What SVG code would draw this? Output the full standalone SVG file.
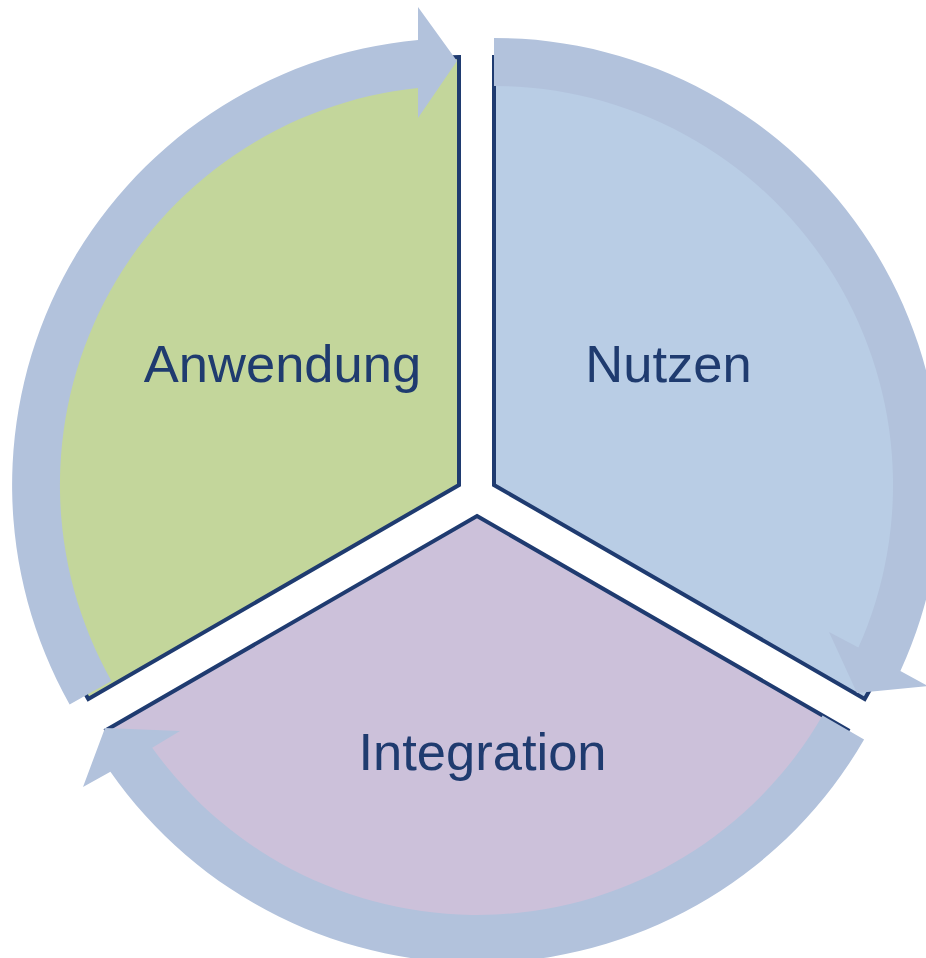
<svg xmlns="http://www.w3.org/2000/svg" width="926" height="958" viewBox="0 0 926 958">
  <style>
    .sector { stroke: #1F3B70; stroke-width: 4; stroke-linejoin: miter; }
    .arrow { fill: #B2C2DC; stroke: none; }
    .label { font-family: "Liberation Sans", Arial, sans-serif; font-size: 52.5px; fill: #1F3B6F; text-anchor: middle; }
  </style>
  <rect width="926" height="958" fill="#FFFFFF"/>
  <g id="node-anwendung">
    <path class="sector" fill="#C3D69B" d="M459,485 L459,57 A428,428 0 0,0 88.3,699 Z"/>
  </g>
  <g id="node-nutzen">
    <path class="sector" fill="#B9CDE5" d="M494,485 L494,57 A428,428 0 0,1 864.7,699 Z"/>
  </g>
  <g id="node-integration">
    <path class="sector" fill="#CCC1DA" d="M477,516 L847.7,730 A428,428 0 0,1 106.3,730 Z"/>
  </g>
  <g id="connectors">
    <path class="arrow" d="M69.6,704.4 A447,447 0 0,1 418,40 L418,7 L457,61 L418,118 L418,88 A399,399 0 0,0 111.4,680.9 Z"/>
    <path class="arrow" d="M494,38 A447,447 0 0,1 900.4,671.1 L928,686 L857,693 L829,632 L858.4,647.6 A399,399 0 0,0 494,86 Z"/>
    <path class="arrow" d="M864.1,739.5 A447,447 0 0,1 110.4,771.7 L83,787 L105,728 L180,731 L152.2,747.7 A399,399 0 0,0 822.5,715.5 Z"/>
  </g>
  <g id="labels">
    <text class="label" x="282.5" y="382">Anwendung</text>
    <text class="label" x="668.5" y="382">Nutzen</text>
    <text class="label" x="482.5" y="770">Integration</text>
  </g>
</svg>
